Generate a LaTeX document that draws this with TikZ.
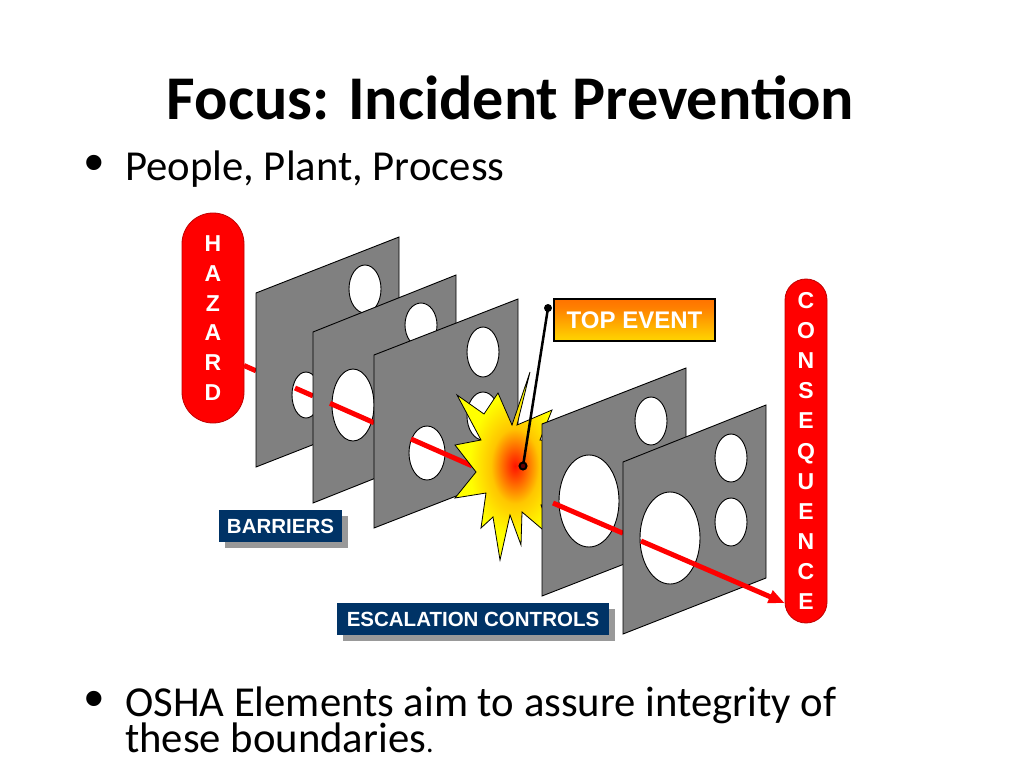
\documentclass[tikz,border=0pt]{standalone}
\usepackage{fontspec}
\setmainfont{Carlito}
\newfontfamily\arialf{Liberation Sans}
\usetikzlibrary{arrows.meta,shadows}
\definecolor{navy}{RGB}{0,51,102}
\definecolor{panelgray}{RGB}{128,128,128}
\definecolor{hred}{RGB}{255,0,0}
\pgfdeclareradialshading{burst}{\pgfpoint{0bp}{0bp}}{color(0bp)=(red!85!orange); color(3bp)=(red!45!orange); color(10bp)=(orange!45!yellow); color(19bp)=(yellow); color(50bp)=(yellow)}
\pgfdeclareverticalshading{topev}{100bp}{color(0bp)=(yellow); color(30bp)=(yellow!60!orange); color(65bp)=(orange); color(100bp)=(orange!65!red)}
\begin{document}
\begin{tikzpicture}[x=1pt,y=-1pt,
  panel/.style={fill=panelgray,draw=black,line width=0.9pt,line join=miter},
  hole/.style={fill=white,draw=black,line width=0.9pt},
  redline/.style={draw=hred,line width=5pt},
  vbar/.style={fill=hred,draw=red!75!black,line width=0.8pt,text=white,align=center,inner sep=0pt},
  tag/.style={fill=navy,text=white,font=\arialf\bfseries\fontsize{20.5}{24}\selectfont,inner sep=0pt,
    general shadow={fill=black!40,shadow xshift=6pt,shadow yshift=-6pt}},
  bodytext/.style={font=\fontsize{42.7}{50}\selectfont,inner sep=0pt},
  bulletmark/.style={font=\arialf\fontsize{56}{60}\selectfont,inner sep=0pt,anchor=base}
]
\path[use as bounding box,fill=white] (0,0) rectangle (1024,768);

% texts
\node[font=\bfseries\fontsize{62.2}{70}\selectfont,anchor=base,inner sep=0pt] (title) at (510.5,119) {Focus: Incident Prevention};
\node[bulletmark] (d1) at (94,181) {\textbullet};
\node[bodytext,anchor=base west] (b1) at (125,180) {People, Plant, Process};
\node[bulletmark] (d2) at (94,717) {\textbullet};
\node[bodytext,anchor=base west] (b2) at (125,716) {OSHA Elements aim to assure integrity of};
\node[bodytext,anchor=base west] (b3) at (125,752) {these boundaries{\fontsize{30}{36}\selectfont.}};

% hazard
\node[vbar,rounded corners=30.9pt,minimum width=62pt,minimum height=210pt,
  font=\arialf\bfseries\fontsize{23}{29.8}\selectfont] (haz) at (213,318) {H\\A\\Z\\A\\R\\D};

% coordinates of red line
\coordinate (r0) at (244,365.5);
\coordinate (r1) at (256,370.8);
\coordinate (r2) at (295,388.0);
\coordinate (r3) at (313,395.9);
\coordinate (r4) at (330,403.3);
\coordinate (r5) at (374,422.7);
\coordinate (r6) at (411,439.0);
\coordinate (r7) at (472,465.8);
\coordinate (q0) at (553,503);
\coordinate (q1) at (623,533.2);
\coordinate (q2) at (641,541.0);

\draw[redline] (r0) -- (r1);

% panel 1
\draw[panel] (256,293) -- (399,237) -- (399,411) -- (256,467) -- cycle;
\draw[hole] (365,289) ellipse [x radius=16,y radius=24];
\draw[hole] (306,395) ellipse [x radius=14,y radius=23];
\draw[redline] (r2) -- (r3);

% panel 2
\draw[panel] (313,332) -- (456,275) -- (456,446) -- (313,503) -- cycle;
\draw[hole] (421,325) ellipse [x radius=16,y radius=22];
\draw[hole] (353,405) ellipse [x radius=21,y radius=36];
\draw[redline] (r4) -- (r5);

% panel 3
\draw[panel] (374,355) -- (518,299) -- (518,472) -- (374,528) -- cycle;
\draw[hole] (483,352) ellipse [x radius=16,y radius=25];
\draw[hole] (483,416) ellipse [x radius=16,y radius=24];
\draw[hole] (427,453) ellipse [x radius=18,y radius=27];
\draw[redline] (r6) -- (r7);

% starburst
\draw[shading=burst,draw=black,line width=0.8pt,line join=miter]
  (530,372) -- (517,425) -- (552,410) -- (540,440) -- (575,445) -- (545,470) --
  (575,500) -- (541,505) -- (555,540) -- (522,512) -- (521,545) -- (510,515) --
  (500,560) -- (493,517) -- (481,528) -- (486,493) -- (455,498) -- (476,472) --
  (455,445) -- (481,440) -- (457,395) -- (484,414) -- (498,393) -- (512,425) -- cycle;

% top event
\node[draw=black,line width=1.5pt,shading=topev,minimum width=161pt,minimum height=42pt,
  text=white,font=\arialf\bfseries\fontsize{24}{28}\selectfont,inner sep=0pt] (top) at (634.5,320) {TOP EVENT};
\coordinate (te) at (548,308);
\coordinate (sc) at (523,466);
\draw[line width=2.5pt] (te) -- (sc);
\fill[black] (te) circle (4);
\draw[line width=2pt,fill=red!40!black] (sc) circle (3.5);

% panel 4
\draw[panel] (542,424) -- (686,368) -- (686,540) -- (542,596) -- cycle;
\draw[hole] (651,421) ellipse [x radius=16,y radius=24];
\draw[hole] (589,501) ellipse [x radius=30,y radius=46];
\draw[redline] (q0) -- (q1);

% panel 5
\draw[panel] (623,462) -- (766,405) -- (766,578) -- (623,634) -- cycle;
\draw[hole] (731,458) ellipse [x radius=16,y radius=24];
\draw[hole] (731,522) ellipse [x radius=16,y radius=24];
\draw[hole] (670,538) ellipse [x radius=30,y radius=46];

% consequence
\node[vbar,rounded corners=20.9pt,minimum width=42pt,minimum height=344pt,
  font=\arialf\bfseries\fontsize{23}{30.1}\selectfont] (con) at (806,451) {C\\O\\N\\S\\E\\Q\\U\\E\\N\\C\\E};
\coordinate (q3) at (con.west |- 0,603);
\draw[redline,-{Triangle[length=16pt,width=13pt]}] (q2) -- (q3);

% labels
\node[tag,minimum width=123pt,minimum height=32pt] (bar) at (280.5,526) {BARRIERS};
\node[tag,minimum width=272pt,minimum height=32pt] (esc) at (473,619) {ESCALATION CONTROLS};
\end{tikzpicture}
\end{document}
